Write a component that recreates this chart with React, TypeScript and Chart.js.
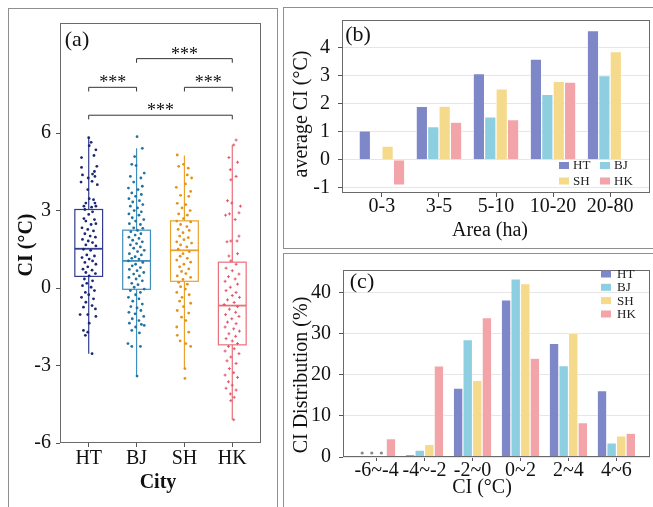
import React, { useEffect, useRef } from 'react';
import { Chart, registerables } from 'chart.js';

Chart.register(...registerables);

const SERIF = '"Liberation Serif", "Times New Roman", Times, serif';
const TEXT = '#111111';
const TICK = '#555555';

// ---------------- Panel (a): CI by city ----------------
const cities = ['HT', 'BJ', 'SH', 'HK'];
const yTicksA = [-6, -3, 0, 3, 6];
const boxQ1 = [0.45, -0.05, 0.26, -2.2];
const boxMedian = [1.52, 1.05, 1.46, -0.68];
const boxQ3 = [3.04, 2.24, 2.6, 1.0];
const whiskerLow = [-2.54, -3.43, -3.12, -5.1];
const whiskerHigh = [5.82, 5.41, 5.13, 5.54];

// [jitter (category units), CI value]
const pointsHT = [
  [0.00, 5.82], [0.05, 5.64], [0.01, 5.51], [0.15, 5.35], [-0.15, 5.05], [0.11, 5.13], [0.17, 4.71], [-0.15, 4.67], [0.12, 4.51], [0.08, 4.41],
  [-0.13, 4.38], [0.13, 4.32], [-0.01, 4.26], [-0.16, 4.10], [0.07, 4.13], [0.18, 4.00], [-0.02, 3.81], [0.01, 3.46], [0.10, 3.42], [-0.06, 3.29],
  [0.13, 3.29], [-0.10, 3.17], [0.06, 3.13], [0.15, 3.17], [-0.08, 3.04], [0.08, 2.95], [0.00, 2.85], [-0.10, 2.69], [0.12, 2.65], [-0.06, 2.59],
  [0.05, 2.46], [0.15, 2.49], [-0.14, 2.33], [-0.02, 2.27], [0.10, 2.21], [-0.08, 2.10], [0.03, 2.01], [0.14, 1.97], [-0.13, 1.88], [-0.01, 1.82],
  [0.08, 1.76], [-0.06, 1.67], [0.15, 1.63], [-0.11, 1.50], [0.04, 1.46], [-0.04, 1.28], [0.12, 1.24], [-0.14, 1.18], [0.01, 1.12], [0.08, 1.05],
  [-0.08, 0.99], [0.15, 0.92], [-0.02, 0.82], [-0.12, 0.73], [0.07, 0.69], [-0.06, 0.60], [0.14, 0.56], [0.01, 0.47], [-0.09, 0.35], [0.08, 0.28],
  [-0.04, 0.18], [-0.13, 0.09], [0.05, 0.03], [0.12, -0.10], [-0.07, -0.17], [0.00, -0.26], [-0.15, -0.36], [0.10, -0.42], [-0.06, -0.55], [0.07, -0.68],
  [-0.11, -0.74], [0.14, -0.81], [-0.02, -1.03], [-0.18, -1.03], [0.15, -1.10], [0.01, -1.36], [-0.11, -1.64], [-0.02, -1.71], [-0.07, -1.83], [0.07, -2.54],
];
const pointsBJ = [
  [0.01, 5.86], [0.12, 5.41], [-0.04, 5.09], [-0.10, 4.79], [-0.01, 4.74], [0.16, 4.45], [-0.13, 4.32], [0.09, 4.26], [-0.06, 4.10], [0.12, 3.94],
  [-0.17, 3.87], [0.03, 3.81], [-0.10, 3.68], [0.10, 3.62], [-0.02, 3.55], [-0.16, 3.46], [0.06, 3.38], [-0.08, 3.33], [0.13, 3.23], [-0.13, 3.17],
  [0.02, 3.10], [-0.05, 3.00], [0.10, 2.95], [-0.16, 2.87], [0.05, 2.82], [-0.09, 2.72], [0.15, 2.65], [-0.02, 2.59], [-0.15, 2.49], [0.08, 2.46],
  [-0.06, 2.33], [0.13, 2.31], [0.02, 2.23], [-0.12, 2.18], [0.09, 2.10], [-0.03, 2.05], [-0.16, 1.97], [0.05, 1.92], [-0.08, 1.85], [0.12, 1.79],
  [0.00, 1.72], [-0.13, 1.67], [0.08, 1.59], [-0.06, 1.54], [0.16, 1.46], [0.02, 1.41], [-0.15, 1.33], [0.10, 1.28], [-0.03, 1.21], [-0.10, 1.15],
  [0.05, 1.12], [-0.17, 1.05], [0.13, 0.99], [-0.02, 0.92], [-0.09, 0.86], [0.08, 0.79], [-0.15, 0.72], [0.01, 0.67], [0.15, 0.60], [-0.06, 0.54],
  [0.06, 0.47], [-0.16, 0.41], [-0.01, 0.35], [0.12, 0.28], [-0.10, 0.18], [0.03, 0.13], [-0.05, 0.03], [0.16, -0.04], [-0.13, -0.10], [0.08, -0.17],
  [-0.02, -0.26], [-0.17, -0.36], [0.05, -0.42], [-0.08, -0.51], [0.12, -0.62], [-0.12, -0.72], [0.01, -0.77], [0.09, -0.87], [-0.16, -0.94], [-0.03, -1.00],
  [0.15, -1.10], [-0.09, -1.19], [0.05, -1.26], [-0.15, -1.36], [0.10, -1.41], [-0.02, -1.51], [-0.10, -1.64], [0.16, -1.45], [0.06, -1.74], [-0.18, -2.15],
  [-0.10, -2.26], [0.08, -2.26], [0.01, -3.41],
];
const pointsSH = [
  [-0.15, 5.15], [-0.12, 4.71], [0.08, 4.64], [-0.02, 4.79], [0.15, 4.26], [0.06, 4.38], [-0.17, 3.90], [0.02, 4.03], [0.13, 3.74], [-0.08, 3.59],
  [0.09, 3.55], [-0.15, 3.28], [0.03, 3.23], [-0.05, 3.10], [0.12, 3.00], [-0.12, 2.87], [0.06, 2.82], [-0.02, 2.69], [-0.16, 2.59], [0.13, 2.56],
  [-0.08, 2.46], [0.05, 2.38], [-0.13, 2.27], [0.10, 2.23], [-0.03, 2.14], [-0.10, 2.01], [0.08, 1.95], [-0.01, 1.87], [-0.16, 1.79], [0.15, 1.74],
  [-0.08, 1.67], [0.05, 1.59], [-0.13, 1.50], [0.10, 1.41], [-0.03, 1.33], [-0.09, 1.23], [0.06, 1.15], [-0.16, 1.08], [0.13, 1.00], [-0.01, 0.92],
  [-0.10, 0.82], [0.09, 0.74], [-0.06, 0.64], [0.03, 0.56], [-0.15, 0.47], [0.13, 0.41], [-0.03, 0.33], [-0.12, 0.22], [0.06, 0.15], [-0.08, 0.05],
  [0.02, -0.04], [-0.16, -0.17], [0.10, -0.26], [-0.05, -0.36], [-0.10, -0.51], [0.13, -0.59], [-0.02, -0.72], [-0.15, -0.87], [0.09, -0.97], [-0.06, -1.13],
  [0.03, -1.26], [-0.16, -1.51], [0.09, -1.71], [-0.15, -1.83], [-0.09, -2.05], [0.03, -2.15], [0.13, -2.26], [0.01, -3.12], [0.01, -3.50],
];
const pointsHK = [
  [0.08, 5.73], [0.03, 5.54], [-0.07, 5.05], [0.11, 4.87], [-0.04, 4.58], [0.08, 4.32], [-0.03, 4.19], [-0.10, 3.38], [-0.01, 3.29], [0.17, 3.17],
  [-0.14, 2.82], [-0.06, 2.87], [0.14, 2.91], [0.06, 2.65], [-0.11, 1.79], [-0.03, 1.82], [0.10, 1.82], [0.14, 2.01], [0.11, 1.33], [-0.07, 1.24],
  [-0.03, 1.05], [0.08, 0.92], [-0.13, 0.77], [0.00, 0.67], [0.14, 0.54], [-0.08, 0.44], [0.06, 0.35], [-0.15, 0.26], [0.11, 0.15], [-0.04, 0.03],
  [-0.13, -0.10], [0.08, -0.17], [0.00, -0.29], [0.15, -0.36], [-0.10, -0.46], [0.04, -0.56], [-0.17, -0.64], [0.11, -0.72], [-0.06, -0.82], [0.07, -0.94],
  [-0.14, -1.03], [0.14, -1.10], [-0.01, -1.19], [-0.10, -1.32], [0.08, -1.38], [-0.15, -1.51], [0.03, -1.58], [0.15, -1.67], [-0.07, -1.77], [0.07, -1.87],
  [-0.13, -1.96], [0.00, -2.05], [0.11, -2.15], [-0.08, -2.26], [0.04, -2.35], [-0.15, -2.44], [0.14, -2.54], [-0.03, -2.67], [-0.11, -2.82], [0.08, -2.92],
  [-0.06, -3.12], [0.03, -3.28], [-0.15, -3.37], [0.11, -3.46], [-0.08, -3.63], [0.00, -3.76], [-0.13, -3.88], [0.08, -3.95], [-0.04, -4.10], [0.04, -4.23],
  [-0.03, -4.36], [0.03, -5.10],
];
const cityPoints = [pointsHT, pointsBJ, pointsSH, pointsHK];

const sigPairs = [[2, 4], [1, 2], [3, 4], [1, 4]];
const sigHeights = [8.88, 7.77, 7.77, 6.69];
const sigLabels = ['***', '***', '***', '***'];

// ---------------- Panel (b): average CI by area ----------------
const areaBins = ['0-3', '3-5', '5-10', '10-20', '20-80'];
const yTicksB = [-1, 0, 1, 2, 3, 4];
const areaHT = [1.03, 1.9, 3.07, 3.59, 4.6];
const areaBJ = [null, 1.18, 1.53, 2.33, 3.0];
const areaSH = [0.49, 1.91, 2.53, 2.79, 3.85];
const areaHK = [-0.9, 1.34, 1.43, 2.77, null];

// ---------------- Panel (c): CI distribution ----------------
const ciBins = ['-6~-4', '-4~-2', '-2~0', '0~2', '2~4', '4~6'];
const yTicksC = [0, 10, 20, 30, 40];
const distHT = [0, 0.6, 16.8, 38.3, 27.7, 16.2];
const distBJ = [0, 1.7, 28.6, 43.4, 22.3, 3.45];
const distSH = [0, 3.05, 18.7, 42.3, 30.2, 5.15];
const distHK = [4.45, 22.2, 34.0, 24.1, 8.4, 5.8];

// ---------------- styles ----------------
const pointColors = ['#1c2677', '#22729f', '#e0941a', '#e25565'];
const boxColors = ['#323d8f', '#3e8fbd', '#e9a22e', '#ea707b'];
const barColors = { HT: '#7e88c8', BJ: '#8dcfe0', SH: '#f5da8b', HK: '#f2a4a8' };

const tickFont = { family: SERIF, size: 20 };

const panelBorder = {
  id: 'panelBorder',
  afterDraw(chart: any) {
    const { ctx, chartArea: a } = chart;
    ctx.save();
    ctx.strokeStyle = '#6a6a6a';
    ctx.lineWidth = 1;
    ctx.strokeRect(a.left + 0.5, a.top + 0.5, a.right - a.left - 1, a.bottom - a.top - 1);
    ctx.restore();
  },
};

const textItems = {
  id: 'textItems',
  afterDraw(chart: any, _args: any, opts: any) {
    const { ctx } = chart;
    (opts.items || []).forEach((it: any) => {
      ctx.save();
      ctx.fillStyle = TEXT;
      ctx.font = `${it.bold ? 'bold ' : ''}${it.size}px ${SERIF}`;
      ctx.textAlign = 'center';
      ctx.textBaseline = 'middle';
      ctx.translate(it.x, it.y);
      if (it.rotate) ctx.rotate(-Math.PI / 2);
      ctx.fillText(it.text, 0, 0);
      ctx.restore();
    });
  },
};

const keyLegend = {
  id: 'keyLegend',
  afterDraw(chart: any, _args: any, opts: any) {
    const { ctx } = chart;
    (opts.items || []).forEach((it: any) => {
      const ds = chart.data.datasets[it.dataset];
      ctx.save();
      ctx.fillStyle = ds.backgroundColor;
      ctx.fillRect(it.x, it.y - opts.keyH / 2, opts.keyW, opts.keyH);
      ctx.fillStyle = '#222';
      ctx.font = `${opts.size}px ${SERIF}`;
      ctx.textAlign = 'left';
      ctx.textBaseline = 'middle';
      ctx.fillText(ds.label, it.x + opts.keyW + opts.gap, it.y + 0.5);
      ctx.restore();
    });
  },
};

const boxPlot = {
  id: 'boxPlot',
  beforeDatasetsDraw(chart: any) {
    const { ctx, scales } = chart;
    const x = scales.x;
    const y = scales.y;
    cities.forEach((_c, i) => {
      const cx = x.getPixelForValue(i + 1);
      const hw = x.getPixelForValue(i + 1.29) - cx;
      const yq1 = y.getPixelForValue(boxQ1[i]);
      const yq3 = y.getPixelForValue(boxQ3[i]);
      const ym = y.getPixelForValue(boxMedian[i]);
      const ylo = y.getPixelForValue(whiskerLow[i]);
      const yhi = y.getPixelForValue(whiskerHigh[i]);
      ctx.save();
      ctx.strokeStyle = boxColors[i];
      ctx.lineWidth = 1.2;
      ctx.beginPath();
      ctx.moveTo(cx, yhi); ctx.lineTo(cx, yq3);
      ctx.moveTo(cx, yq1); ctx.lineTo(cx, ylo);
      ctx.stroke();
      ctx.strokeRect(cx - hw, yq3, hw * 2, yq1 - yq3);
      ctx.lineWidth = 1.8;
      ctx.beginPath();
      ctx.moveTo(cx - hw, ym); ctx.lineTo(cx + hw, ym);
      ctx.stroke();
      ctx.restore();
    });
  },
};

const sigBrackets = {
  id: 'sigBrackets',
  afterDatasetsDraw(chart: any) {
    const { ctx, scales } = chart;
    const x = scales.x;
    const y = scales.y;
    sigPairs.forEach((pair, k) => {
      const x1 = x.getPixelForValue(pair[0]);
      const x2 = x.getPixelForValue(pair[1]);
      const yy = y.getPixelForValue(sigHeights[k]);
      const yEnd = y.getPixelForValue(sigHeights[k] - 0.16);
      ctx.save();
      ctx.strokeStyle = '#333';
      ctx.lineWidth = 1;
      ctx.beginPath();
      ctx.moveTo(x1, yEnd); ctx.lineTo(x1, yy); ctx.lineTo(x2, yy); ctx.lineTo(x2, yEnd);
      ctx.stroke();
      ctx.fillStyle = TEXT;
      ctx.font = `18px ${SERIF}`;
      ctx.textAlign = 'center';
      ctx.textBaseline = 'alphabetic';
      ctx.fillText(sigLabels[k], (x1 + x2) / 2, yy + 1);
      ctx.restore();
    });
  },
};

const zeroDots = {
  id: 'zeroDots',
  afterDatasetsDraw(chart: any) {
    const { ctx, scales } = chart;
    const base = scales.y.getPixelForValue(0);
    chart.data.datasets.forEach((ds: any, d: number) => {
      const meta = chart.getDatasetMeta(d);
      ds.data.forEach((pt: any, i: number) => {
        if (pt.y === 0) {
          const el = meta.data[i];
          ctx.save();
          ctx.fillStyle = '#8a8a8a';
          ctx.beginPath();
          ctx.arc(el.x, base - 4, 1.6, 0, Math.PI * 2);
          ctx.fill();
          ctx.restore();
        }
      });
    });
  },
};

function setTicks(values: number[]) {
  return (scale: any) => {
    scale.ticks = values.map((v) => ({ value: v }));
  };
}

function configA(): any {
  return {
    type: 'scatter',
    data: {
      datasets: cities.map((c, i) => ({
        label: c,
        data: cityPoints[i].map((p) => ({ x: i + 1 + p[0], y: p[1] })),
        backgroundColor: pointColors[i],
        borderColor: pointColors[i],
        pointStyle: i === 3 ? 'cross' : 'circle',
        pointRadius: i === 3 ? 1.5 : 1.4,
        borderWidth: i === 3 ? 1 : 0,
      })),
    },
    options: {
      animation: false,
      responsive: false,
      events: [],
      layout: { padding: { left: 0, top: 23, right: 19, bottom: 0 } },
      plugins: {
        legend: { display: false },
        tooltip: { enabled: false },
        textItems: {
          items: [
            { text: '(a)', x: 77, y: 40, size: 22 },
            { text: 'CI (°C)', x: 27, y: 245, size: 20, bold: true, rotate: true },
            { text: 'City', x: 158, y: 483, size: 20, bold: true },
          ],
        },
      },
      scales: {
        x: {
          type: 'linear', min: 0.4, max: 4.6,
          afterBuildTicks: setTicks(cities.map((_c, i) => i + 1)),
          ticks: { callback: (v: number) => cities[v - 1] ?? '', font: tickFont, color: TEXT, padding: 0, maxRotation: 0, autoSkip: false },
          grid: { drawOnChartArea: false, tickLength: 4, tickColor: TICK },
          border: { display: false },
          afterFit: (s: any) => { s.height = 64; },
        },
        y: {
          type: 'linear', min: -6, max: 10.26,
          afterBuildTicks: setTicks(yTicksA),
          ticks: { callback: (v: number) => String(v), font: tickFont, color: TEXT, padding: 5 },
          grid: { drawOnChartArea: false, tickLength: 4, tickColor: TICK },
          border: { display: false },
          afterFit: (s: any) => { s.width = 60; },
        },
      },
    },
    plugins: [boxPlot, sigBrackets, panelBorder, textItems],
  };
}

function barDatasets(series: any[][]) {
  const names = ['HT', 'BJ', 'SH', 'HK'];
  return names.map((n, d) => ({
    label: n,
    data: series[d].map((v, i) => ({ x: i + 1, y: v })),
    backgroundColor: (barColors as any)[n],
    borderColor: '#ffffff',
    borderWidth: 0.6,
    categoryPercentage: 0.8,
    barPercentage: 1,
  }));
}

function configB(): any {
  return {
    type: 'bar',
    data: { datasets: barDatasets([areaHT, areaBJ, areaSH, areaHK]) },
    options: {
      animation: false,
      responsive: false,
      events: [],
      layout: { padding: { left: 0, top: 15, right: 3, bottom: 0 } },
      plugins: {
        legend: { display: false },
        tooltip: { enabled: false },
        textItems: {
          items: [
            { text: '(b)', x: 78, y: 35, size: 22 },
            { text: 'average CI (°C)', x: 22, y: 114, size: 20, rotate: true },
            { text: 'Area (ha)', x: 210, y: 231, size: 20 },
          ],
        },
        keyLegend: {
          keyW: 10, keyH: 7, gap: 4, size: 13,
          items: [
            { dataset: 0, x: 279, y: 165.5 },
            { dataset: 1, x: 320, y: 165.5 },
            { dataset: 2, x: 279, y: 181 },
            { dataset: 3, x: 320, y: 181 },
          ],
        },
      },
      scales: {
        x: {
          type: 'linear', min: 0.3, max: 5.7, offset: false,
          afterBuildTicks: setTicks(areaBins.map((_c, i) => i + 1)),
          ticks: { callback: (v: number) => areaBins[v - 1] ?? '', font: tickFont, color: TEXT, padding: -2, maxRotation: 0, autoSkip: false },
          grid: { offset: false, drawOnChartArea: false, tickLength: 4, tickColor: TICK },
          border: { display: false },
          afterFit: (s: any) => { s.height = 57; },
        },
        y: {
          type: 'linear', min: -1.18, max: 4.98,
          afterBuildTicks: setTicks(yTicksB),
          ticks: { callback: (v: number) => String(v), font: tickFont, color: TEXT, padding: 8 },
          grid: { color: '#e6e6e6', lineWidth: 1, tickLength: 4, tickColor: TICK },
          border: { display: false },
          afterFit: (s: any) => { s.width = 62; },
        },
      },
    },
    plugins: [panelBorder, textItems, keyLegend],
  };
}

function configC(): any {
  return {
    type: 'bar',
    data: { datasets: barDatasets([distHT, distBJ, distSH, distHK]) },
    options: {
      animation: false,
      responsive: false,
      events: [],
      layout: { padding: { left: 0, top: 13, right: 3, bottom: 0 } },
      plugins: {
        legend: { display: false },
        tooltip: { enabled: false },
        textItems: {
          items: [
            { text: '(c)', x: 82, y: 32, size: 22 },
            { text: 'CI Distribution (%)', x: 22, y: 125, size: 20, rotate: true },
            { text: 'CI (°C)', x: 202, y: 238, size: 20 },
          ],
        },
        keyLegend: {
          keyW: 10, keyH: 7, gap: 6, size: 13,
          items: [
            { dataset: 0, x: 321, y: 24 },
            { dataset: 1, x: 321, y: 37.3 },
            { dataset: 2, x: 321, y: 50.6 },
            { dataset: 3, x: 321, y: 64 },
          ],
        },
      },
      scales: {
        x: {
          type: 'linear', min: 0.3, max: 6.7, offset: false,
          afterBuildTicks: setTicks(ciBins.map((_c, i) => i + 1)),
          ticks: { callback: (v: number) => ciBins[v - 1] ?? '', font: tickFont, color: TEXT, padding: -2, maxRotation: 0, autoSkip: false },
          grid: { offset: false, drawOnChartArea: false, tickLength: 4, tickColor: TICK },
          border: { display: false },
          afterFit: (s: any) => { s.height = 50; },
        },
        y: {
          type: 'linear', min: 0, max: 45.6,
          afterBuildTicks: setTicks(yTicksC),
          ticks: { callback: (v: number) => String(v), font: tickFont, color: TEXT, padding: 8 },
          grid: { color: '#e6e6e6', lineWidth: 1, tickLength: 4, tickColor: TICK },
          border: { display: false },
          afterFit: (s: any) => { s.width = 63; },
        },
      },
    },
    plugins: [zeroDots, panelBorder, textItems, keyLegend],
  };
}

export default function App() {
  const refA = useRef<HTMLCanvasElement | null>(null);
  const refB = useRef<HTMLCanvasElement | null>(null);
  const refC = useRef<HTMLCanvasElement | null>(null);

  useEffect(() => {
    const charts = [
      new Chart(refA.current as HTMLCanvasElement, configA()),
      new Chart(refB.current as HTMLCanvasElement, configB()),
      new Chart(refC.current as HTMLCanvasElement, configC()),
    ];
    return () => charts.forEach((c) => c.destroy());
  }, []);

  const frame = '1.5px solid #8f8f8f';
  return (
    <div style={{ position: 'absolute', left: 0, top: 0, width: 653, height: 507, overflow: 'hidden', background: '#ffffff' }}>
      <div style={{ position: 'absolute', left: 8, top: 8, width: 270, height: 520, border: frame, boxSizing: 'border-box' }} />
      <div style={{ position: 'absolute', left: 283, top: 7, width: 380, height: 242, border: frame, boxSizing: 'border-box' }} />
      <div style={{ position: 'absolute', left: 283, top: 253, width: 380, height: 270, border: frame, boxSizing: 'border-box' }} />
      <canvas ref={refA} width={280} height={507} style={{ position: 'absolute', left: 0, top: 0 }} />
      <canvas ref={refB} width={373} height={250} style={{ position: 'absolute', left: 280, top: 0 }} />
      <canvas ref={refC} width={373} height={257} style={{ position: 'absolute', left: 280, top: 250 }} />
    </div>
  );
}
